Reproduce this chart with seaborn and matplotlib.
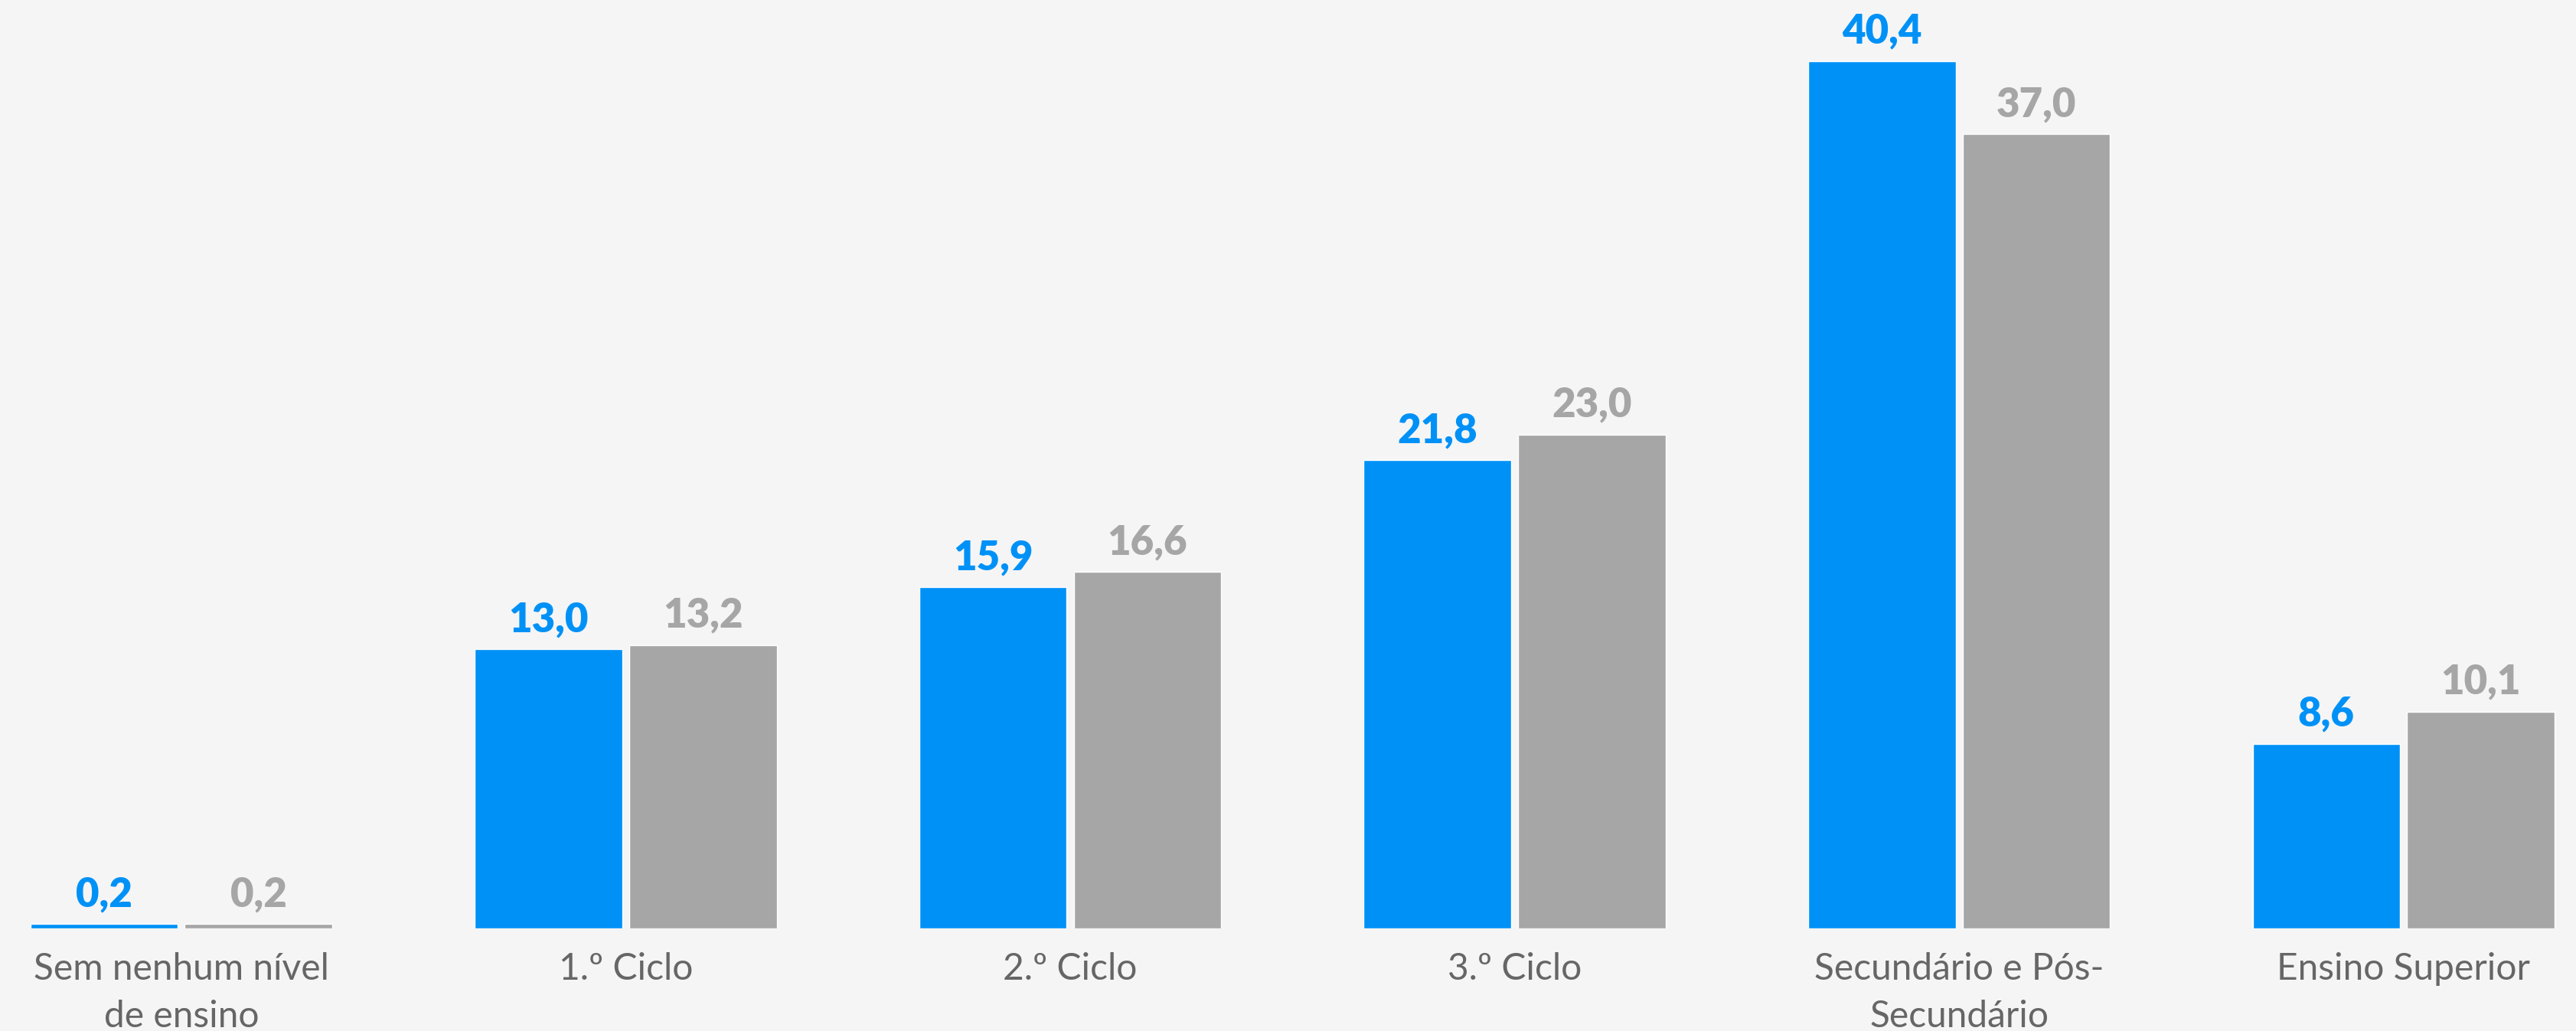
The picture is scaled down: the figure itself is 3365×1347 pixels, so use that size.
import matplotlib
matplotlib.use("Agg")
import matplotlib.pyplot as plt
import seaborn as sns
import pandas as pd

categories = ["Sem nenhum nível\nde ensino", "1.º Ciclo", "2.º Ciclo", "3.º Ciclo",
              "Secundário e Pós-\nSecundário", "Ensino Superior"]
series_names = ["Série 1", "Série 2"]
values_s1 = [0.2, 13.0, 15.9, 21.8, 40.4, 8.6]
values_s2 = [0.2, 13.2, 16.6, 23.0, 37.0, 10.1]

BLUE = "#0091F7"
GRAY = "#A6A6A6"
BG = "#F5F5F5"

df = pd.DataFrame({
    "cat": categories * 2,
    "serie": [series_names[0]] * len(categories) + [series_names[1]] * len(categories),
    "valor": values_s1 + values_s2,
})

sns.set_theme(style="white")
plt.rcParams["font.family"] = ["Lato", "DejaVu Sans"]

fig = plt.figure(figsize=(33.65, 13.47), dpi=100, facecolor=BG)
ax = fig.add_axes([0, 0.0995, 1, 0.9005])
ax.set_facecolor(BG)

sns.barplot(data=df, x="cat", y="valor", hue="serie", order=categories,
            hue_order=series_names, palette=[BLUE, GRAY], width=0.695, gap=0.045,
            saturation=1, legend=False, ax=ax, errorbar=None)

for cont, col in zip(ax.containers, [BLUE, GRAY]):
    ax.bar_label(cont, labels=[f"{v:.1f}".replace(".", ",") for v in cont.datavalues],
                 padding=10, color=col, fontsize=38, fontweight="heavy")

ax.set_xlim(-0.408, 5.388)
ax.set_ylim(0, 43.24)
ax.set_xlabel("")
ax.set_ylabel("")
ax.set_yticks([])
for s in ax.spines.values():
    s.set_visible(False)
ax.tick_params(axis="x", length=0, pad=22, labelsize=34.5)
for t in ax.get_xticklabels():
    t.set_fontweight("normal")
    t.set_color("#666666")
    t.set_linespacing(1.5)

fig.savefig("out.png", dpi=100, facecolor=BG)
